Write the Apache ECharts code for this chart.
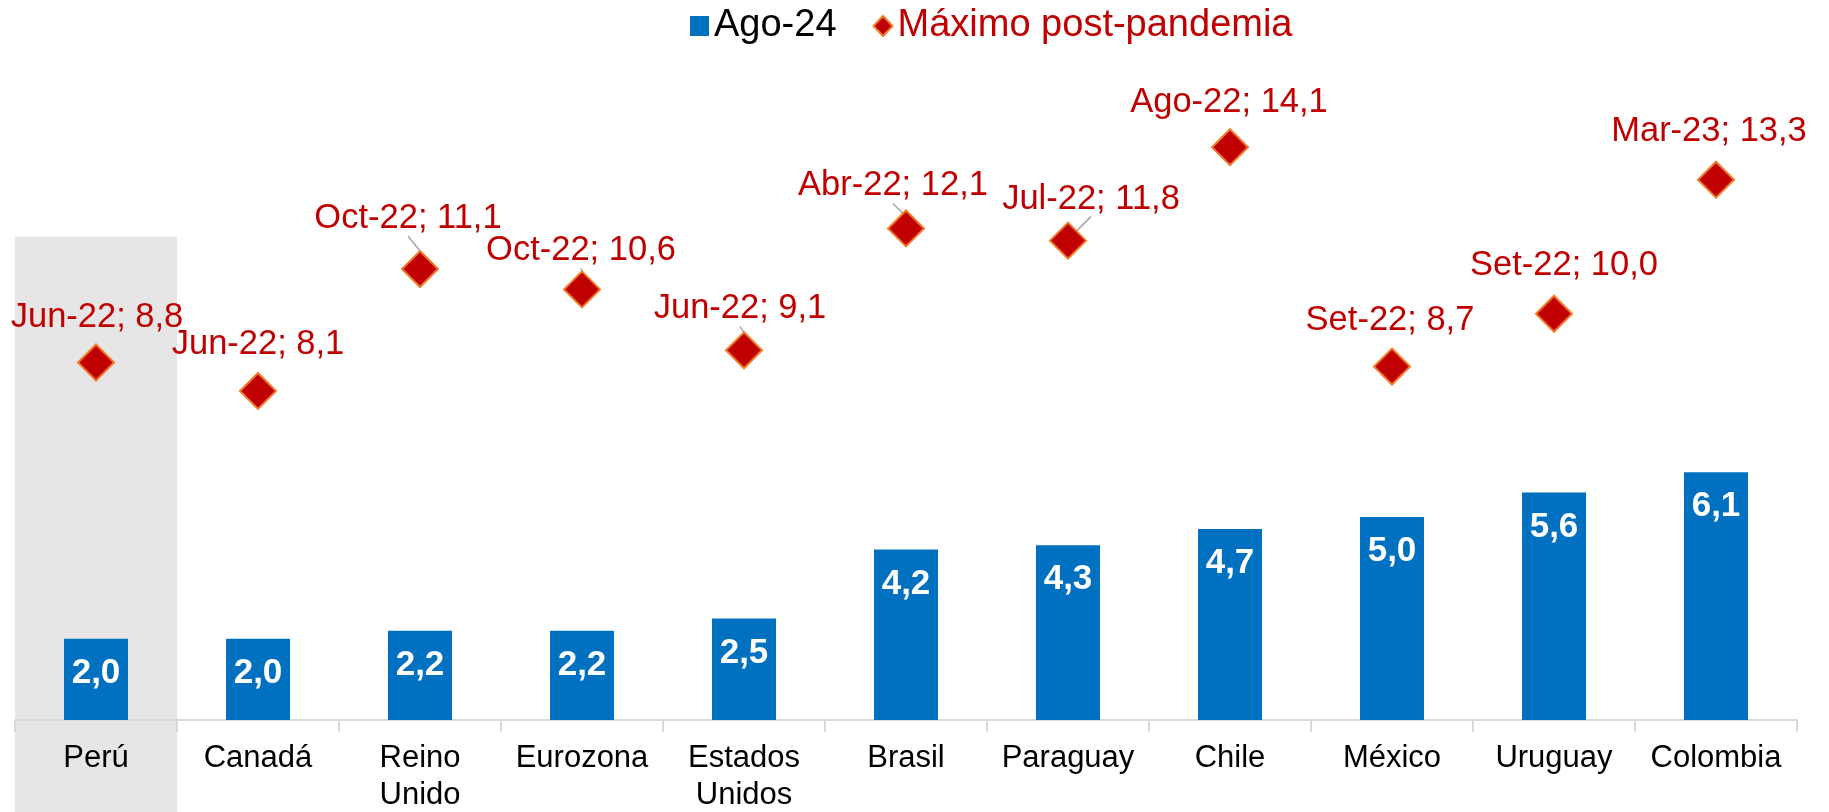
<!DOCTYPE html>
<html><head><meta charset="utf-8">
<script src="https://cdn.jsdelivr.net/npm/echarts@6/dist/echarts.min.js"></script>
<style>html,body{margin:0;padding:0;background:#fff}#c{width:1829px;height:812px}</style>
</head><body><div id="c"></div>
<script>
// ---- data ----
const categories = ['Perú','Canadá','Reino\nUnido','Eurozona','Estados\nUnidos','Brasil','Paraguay','Chile','México','Uruguay','Colombia'];
const ago24 = [2.0, 2.0, 2.2, 2.2, 2.5, 4.2, 4.3, 4.7, 5.0, 5.6, 6.1];
const maxDates = ['Jun-22','Jun-22','Oct-22','Oct-22','Jun-22','Abr-22','Jul-22','Ago-22','Set-22','Set-22','Mar-23'];
const maxValues = [8.8, 8.1, 11.1, 10.6, 9.1, 12.1, 11.8, 14.1, 8.7, 10.0, 13.3];
const highlightCategory = 0; // Perú
const shadeTopValue = 11.9;

// ---- label styling (offsets in px) ----
const labelShifts = [[1,1],[0,0],[-12,-4],[-1,8],[-4,5],[-13,4],[23,5],[-1,2],[-2,0],[10,-2],[-7,-2]];
const showLeader = [false,false,true,true,true,true,true,false,false,false,false];

const fmt = v => v.toFixed(1).replace('.', ',');
const FONT = '"Liberation Sans", Arial, sans-serif';

const chart = echarts.init(document.getElementById('c'), null, {renderer: 'canvas'});

const option = {
  animation: false,
  textStyle: {fontFamily: FONT},
  legend: {
    left: 685, top: 2,
    itemWidth: 19, itemHeight: 20, itemGap: 36,
    textStyle: {fontSize: 38, fontFamily: FONT},
    data: [
      {name: 'Ago-24', icon: 'rect', textStyle: {color: '#000'}},
      {name: 'Máximo post-pandemia', icon: 'diamond', textStyle: {color: '#C00000'}}
    ]
  },
  grid: {left: 15, right: 32, top: 70, bottom: 92, outerBoundsMode: 'none'},
  xAxis: {
    type: 'category',
    data: categories,
    axisLine: {lineStyle: {color: '#D9D9D9', width: 2}},
    axisTick: {show: true, length: 12, lineStyle: {color: '#D9D9D9', width: 2}},
    axisLabel: {fontSize: 31, color: '#000', lineHeight: 37, margin: 20, interval: 0, fontFamily: FONT}
  },
  yAxis: {type: 'value', min: 0, max: 16, interval: 2, show: false, splitLine: {show: false}},
  series: [
    {
      name: 'Ago-24', type: 'bar', data: ago24, barWidth: '39.5%',
      itemStyle: {color: '#0070C0'},
      label: {show: true, position: 'insideTop', distance: 17, color: '#fff', fontWeight: 'bold', fontSize: 35,
        fontFamily: FONT, formatter: p => fmt(p.value)}
    },
    {
      name: 'Máximo post-pandemia', type: 'scatter', symbol: 'diamond', symbolSize: 36,
      itemStyle: {color: '#C00000', borderColor: '#F07A28', borderWidth: 2, opacity: 1},
      data: maxValues.map((v, i) => ({value: v, labelLine: {show: showLeader[i]}})),
      label: {show: true, position: 'top', distance: 10, color: '#C00000', fontSize: 34.5, fontFamily: FONT,
        formatter: p => maxDates[p.dataIndex] + '; ' + fmt(p.value)},
      labelLine: {show: false, lineStyle: {color: '#A6A6A6', width: 1.5}},
      labelLayout: p => ({dx: labelShifts[p.dataIndex][0], dy: labelShifts[p.dataIndex][1]}),
      z: 3
    }
  ]
};
chart.setOption(option);

// Highlight band for Perú, computed from the axis scales
const c0 = chart.convertToPixel({xAxisIndex: 0}, highlightCategory);
const c1 = chart.convertToPixel({xAxisIndex: 0}, highlightCategory + 1);
const bw = c1 - c0;
const yTop = chart.convertToPixel({yAxisIndex: 0}, shadeTopValue);
chart.setOption({
  graphic: [{
    type: 'rect', z: -10, silent: true,
    shape: {x: c0 - bw / 2, y: yTop, width: bw, height: 812 - yTop},
    style: {fill: '#E6E6E6'}
  }]
});
</script>
</body></html>
